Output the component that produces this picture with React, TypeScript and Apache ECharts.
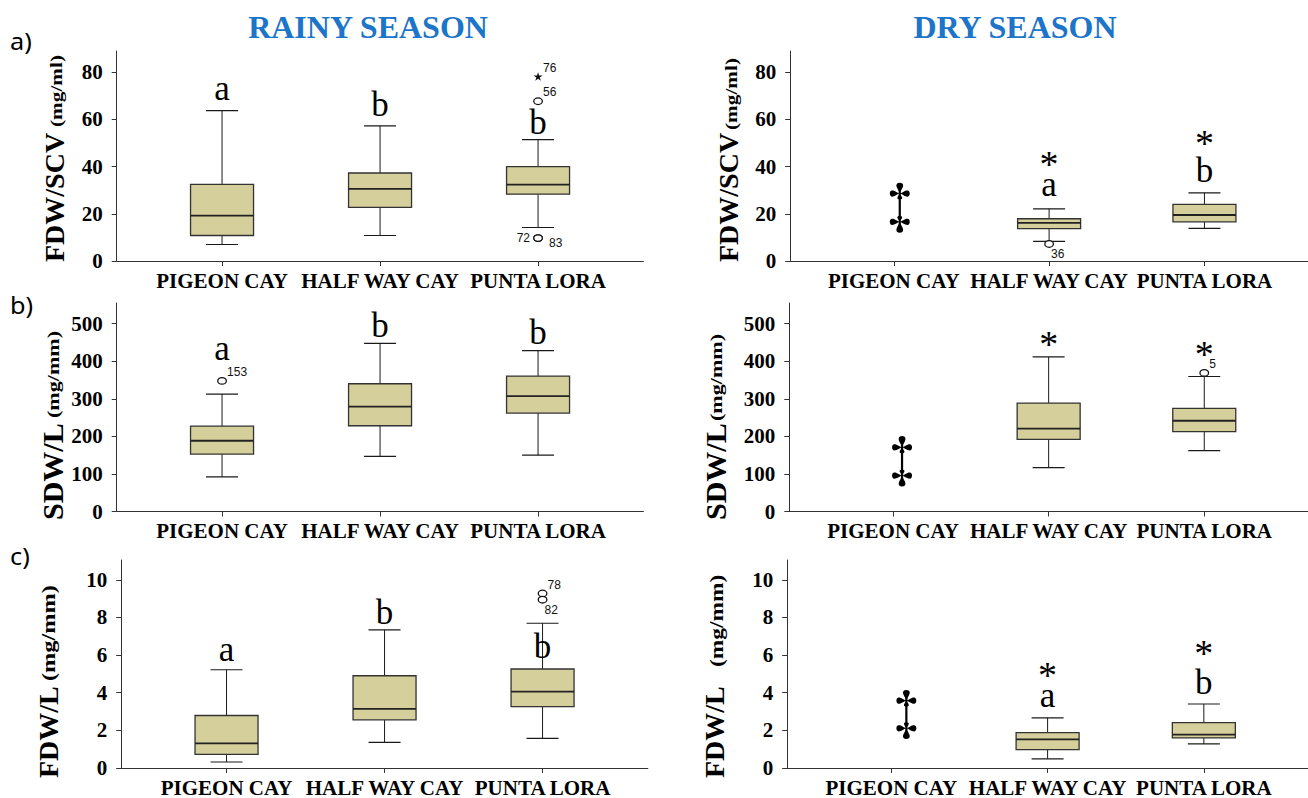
import React, { useEffect, useRef } from "react";
import * as echarts from "echarts";

// ---------------- DATA ----------------
const categories = ["PIGEON CAY", "HALF WAY CAY", "PUNTA LORA"];
const seasonTitles = ["RAINY SEASON", "DRY SEASON"];
const panelLetters = ["a)", "b)", "c)"];
const axisNames = ["FDW/SCV", "SDW/L", "FDW/L"];
const axisUnits = ["(mg/ml)", "(mg/mm)", "(mg/mm)"];

const fdwScvTicks = [0, 20, 40, 60, 80];
const sdwLTicks = [0, 100, 200, 300, 400, 500];
const fdwLTicks = [0, 2, 4, 6, 8, 10];

// [category, lower whisker, Q1, median, Q3, upper whisker]
const rainyFdwScvBoxes: any[] = [
  ["PIGEON CAY", 7.0, 10.8, 19.2, 32.5, 63.7],
  ["HALF WAY CAY", 10.8, 22.7, 30.6, 37.3, 57.3],
  ["PUNTA LORA", 14.2, 28.3, 32.4, 40.0, 51.4],
];
const dryFdwScvBoxes: any[] = [
  ["HALF WAY CAY", 8.3, 13.7, 16.2, 17.9, 22.1],
  ["PUNTA LORA", 13.8, 16.6, 19.5, 24.0, 28.9],
];
const rainySdwLBoxes: any[] = [
  ["PIGEON CAY", 92.4, 152.8, 188.3, 227.4, 312.6],
  ["HALF WAY CAY", 146.5, 228.2, 278.9, 340.1, 447.6],
  ["PUNTA LORA", 150.1, 262.0, 307.3, 360.6, 428.0],
];
const drySdwLBoxes: any[] = [
  ["HALF WAY CAY", 116.8, 192.0, 220.4, 288.5, 411.5],
  ["PUNTA LORA", 162.0, 212.4, 241.6, 274.3, 359.3],
];
const rainyFdwLBoxes: any[] = [
  ["PIGEON CAY", 0.32, 0.72, 1.31, 2.79, 5.22],
  ["HALF WAY CAY", 1.36, 2.56, 3.14, 4.9, 7.34],
  ["PUNTA LORA", 1.57, 3.26, 4.06, 5.26, 7.69],
];
const dryFdwLBoxes: any[] = [
  ["HALF WAY CAY", 0.48, 0.98, 1.52, 1.88, 2.66],
  ["PUNTA LORA", 1.28, 1.6, 1.77, 2.41, 3.4],
];

// outliers: [category, value, case number, marker, label side]
const rainyFdwScvOutliers: any[] = [
  ["PUNTA LORA", 78.0, "76", "star", "tr"],
  ["PUNTA LORA", 67.7, "56", "circle", "tr"],
  ["PUNTA LORA", 9.7, "72", "circle", "l"],
  ["PUNTA LORA", 9.7, "83", "circle", "r"],
];
const dryFdwScvOutliers: any[] = [["HALF WAY CAY", 7.2, "36", "circle", "br"]];
const rainySdwLOutliers: any[] = [["PIGEON CAY", 347.6, "153", "circle", "tr"]];
const drySdwLOutliers: any[] = [["PUNTA LORA", 369.0, "5", "circle", "tr"]];
const rainyFdwLOutliers: any[] = [
  ["PUNTA LORA", 9.27, "78", "circle", "tr"],
  ["PUNTA LORA", 8.94, "82", "circle", "br"],
];
const dryFdwLOutliers: any[] = [];

// double-dagger marks: [category, top tip, upper cross, lower cross, bottom tip]
const dryFdwScvDagger: any[] = [["PIGEON CAY", 33.2, 28.6, 16.6, 12.0]];
const drySdwLDagger: any[] = [["PIGEON CAY", 200.9, 170.8, 95.6, 66.4]];
const dryFdwLDagger: any[] = [["PIGEON CAY", 4.15, 3.58, 2.11, 1.54]];

// significance marks: [category, value, text]
const rainyFdwScvMarks: any[] = [
  ["PIGEON CAY", 71.3, "a"],
  ["HALF WAY CAY", 66.5, "b"],
  ["PUNTA LORA", 58.5, "b"],
];
const dryFdwScvMarks: any[] = [
  ["HALF WAY CAY", 30.7, "a"],
  ["PUNTA LORA", 38.2, "b"],
  ["HALF WAY CAY", 43.7, "*"],
  ["PUNTA LORA", 52.9, "*"],
];
const rainySdwLMarks: any[] = [
  ["PIGEON CAY", 424.5, "a"],
  ["HALF WAY CAY", 494.7, "b"],
  ["PUNTA LORA", 475.6, "b"],
];
const drySdwLMarks: any[] = [
  ["HALF WAY CAY", 463.7, "*"],
  ["PUNTA LORA", 437.2, "*"],
];
const rainyFdwLMarks: any[] = [
  ["PIGEON CAY", 6.1, "a"],
  ["HALF WAY CAY", 8.28, "b"],
  ["PUNTA LORA", 6.43, "b"],
];
const dryFdwLMarks: any[] = [
  ["HALF WAY CAY", 3.65, "a"],
  ["PUNTA LORA", 4.54, "b"],
  ["HALF WAY CAY", 5.28, "*"],
  ["PUNTA LORA", 6.47, "*"],
];

// ---------------- LAYOUT / STYLE ----------------
const SERIF = '"Liberation Serif", "Times New Roman", serif';
const SANS = '"Liberation Sans", Arial, sans-serif';
const BOX_FILL = "#D4CF9B";
const GRID_W = 526.7;

const panels = [
  { row: 0, col: 0, left: 116.7, top: 51, height: 210, yMax: 89, ticks: fdwScvTicks, boxes: rainyFdwScvBoxes, outliers: rainyFdwScvOutliers, marks: rainyFdwScvMarks, dagger: [], daggerDx: 0, nameX: 54, nameY: 262, nameSize: 28, unitX: 56, unitY: 127, unitSize: 17, unitScale: 1.25 },
  { row: 0, col: 1, left: 790.2, top: 51, height: 210, yMax: 89, ticks: fdwScvTicks, boxes: dryFdwScvBoxes, outliers: dryFdwScvOutliers, marks: dryFdwScvMarks, dagger: dryFdwScvDagger, daggerDx: 6, nameX: 728, nameY: 262, nameSize: 28, unitX: 731, unitY: 130, unitSize: 17, unitScale: 1.25 },
  { row: 1, col: 0, left: 116.7, top: 303, height: 208.5, yMax: 555, ticks: sdwLTicks, boxes: rainySdwLBoxes, outliers: rainySdwLOutliers, marks: rainySdwLMarks, dagger: [], daggerDx: 0, nameX: 52, nameY: 520, nameSize: 30, unitX: 53, unitY: 418, unitSize: 17, unitScale: 1.3 },
  { row: 1, col: 1, left: 789.3, top: 303, height: 208.5, yMax: 555, ticks: sdwLTicks, boxes: drySdwLBoxes, outliers: drySdwLOutliers, marks: drySdwLMarks, dagger: drySdwLDagger, daggerDx: 9, nameX: 715, nameY: 520, nameSize: 30, unitX: 716, unitY: 421, unitSize: 17, unitScale: 1.3 },
  { row: 2, col: 0, left: 121.2, top: 560, height: 209, yMax: 11.05, ticks: fdwLTicks, boxes: rainyFdwLBoxes, outliers: rainyFdwLOutliers, marks: rainyFdwLMarks, dagger: [], daggerDx: 0, nameX: 48, nameY: 778, nameSize: 28, unitX: 49, unitY: 681, unitSize: 18, unitScale: 1.35 },
  { row: 2, col: 1, left: 787.2, top: 560, height: 209, yMax: 11.05, ticks: fdwLTicks, boxes: dryFdwLBoxes, outliers: dryFdwLOutliers, marks: dryFdwLMarks, dagger: dryFdwLDagger, daggerDx: 15, nameX: 714, nameY: 778, nameSize: 28, unitX: 717, unitY: 667, unitSize: 18, unitScale: 1.3 },
];

const catX = (name: string) => categories.indexOf(name) + 1;

const line = (x1: number, y1: number, x2: number, y2: number, w: number, c = "#1a1a1a") => ({
  type: "line",
  shape: { x1, y1, x2, y2 },
  style: { stroke: c, lineWidth: w },
});

function teardrop(px: number, py: number, dx: number, dy: number, len: number, wid: number) {
  const pts: number[][] = [];
  const N = 20;
  for (let i = 0; i < N; i++) {
    const t = (2 * Math.PI * i) / N;
    const u = (len * (1 - Math.cos(t))) / 2;
    const v = (wid / 2) * Math.sin(t) * ((1 - Math.cos(t)) / 2) * 1.5;
    pts.push([px + u * dx - v * dy, py + u * dy + v * dx]);
  }
  return { type: "polygon", shape: { points: pts }, style: { fill: "#000" } };
}

function buildOption() {
  const grid: any[] = [];
  const xAxis: any[] = [];
  const yAxis: any[] = [];
  const series: any[] = [];
  const graphic: any[] = [];

  panels.forEach((p, i) => {
    grid.push({ left: p.left, top: p.top, width: GRID_W, height: p.height, containLabel: false });
    xAxis.push({
      type: "value",
      gridIndex: i,
      min: 1 / 3,
      max: 11 / 3,
      axisLine: { show: true, onZero: false, lineStyle: { color: "#333", width: 1 } },
      axisTick: { show: true, customValues: [1, 2, 3], length: 5, lineStyle: { color: "#333" } },
      axisLabel: {
        customValues: [1, 2, 3],
        formatter: (v: number) => categories[Math.round(v) - 1] || "",
        fontFamily: SERIF,
        fontWeight: "bold",
        fontSize: 21,
        color: "#000",
        margin: 9,
      },
      splitLine: { show: false },
    });
    yAxis.push({
      type: "value",
      gridIndex: i,
      min: 0,
      max: p.yMax,
      axisLine: { show: true, onZero: false, lineStyle: { color: "#333", width: 1 } },
      axisTick: { show: true, customValues: p.ticks, length: 5, lineStyle: { color: "#333" } },
      axisLabel: {
        customValues: p.ticks,
        fontFamily: SERIF,
        fontWeight: "bold",
        fontSize: 21,
        color: "#000",
        margin: 14,
      },
      splitLine: { show: false },
    });

    // boxes
    series.push({
      type: "custom",
      coordinateSystem: "cartesian2d",
      xAxisIndex: i,
      yAxisIndex: i,
      silent: true,
      encode: { x: 0, y: [1, 2, 3, 4, 5] },
      data: p.boxes.map((b: any[]) => [catX(b[0]), b[1], b[2], b[3], b[4], b[5]]),
      renderItem: (params: any, api: any) => {
        const x = api.value(0);
        const c = (k: number) => api.coord([x, api.value(k)]);
        const cx = c(1)[0];
        const yMin = c(1)[1], yQ1 = c(2)[1], yMed = c(3)[1], yQ3 = c(4)[1], yMax = c(5)[1];
        const BH = 31.5, CH = 16;
        return {
          type: "group",
          children: [
            line(cx, yMin, cx, yQ1, 1),
            line(cx, yQ3, cx, yMax, 1),
            line(cx - CH, yMin, cx + CH, yMin, 1.2),
            line(cx - CH, yMax, cx + CH, yMax, 1.2),
            {
              type: "rect",
              shape: { x: cx - BH, y: yQ3, width: 2 * BH, height: yQ1 - yQ3 },
              style: { fill: BOX_FILL, stroke: "#333", lineWidth: 1.3 },
            },
            line(cx - BH, yMed, cx + BH, yMed, 1.8, "#222"),
          ],
        };
      },
    });

    // outliers
    if (p.outliers.length) {
      const outs = p.outliers;
      series.push({
        type: "custom",
        coordinateSystem: "cartesian2d",
        xAxisIndex: i,
        yAxisIndex: i,
        silent: true,
        encode: { x: 0, y: 1 },
        data: outs.map((o: any[]) => [catX(o[0]), o[1]]),
        renderItem: (params: any, api: any) => {
          const o = outs[params.dataIndex];
          const [cx, cy] = api.coord([api.value(0), api.value(1)]);
          const children: any[] = [];
          if (o[3] === "star") {
            const pts: number[][] = [];
            for (let k = 0; k < 10; k++) {
              const r = k % 2 === 0 ? 4.8 : 1.8;
              const a = -Math.PI / 2 + (k * Math.PI) / 5;
              pts.push([cx + r * Math.cos(a), cy + r * Math.sin(a)]);
            }
            children.push({ type: "polygon", shape: { points: pts }, style: { fill: "#111" } });
          } else {
            children.push({
              type: "ellipse",
              shape: { cx, cy, rx: 4.3, ry: 3.3 },
              style: { fill: "#fff", stroke: "#111", lineWidth: 1.3 },
            });
          }
          let lx = cx + 5, ly = cy - 3, align = "left", va = "bottom";
          if (o[4] === "l") { lx = cx - 8; ly = cy; align = "right"; va = "middle"; }
          if (o[4] === "r") { lx = cx + 11; ly = cy + 5; align = "left"; va = "middle"; }
          if (o[4] === "br") { lx = cx + 2; ly = cy + 10; align = "left"; va = "middle"; }
          children.push({
            type: "text",
            x: lx,
            y: ly,
            style: { text: o[2], fontFamily: SANS, fontSize: 12, fill: "#111", align, verticalAlign: va },
          });
          return { type: "group", children };
        },
      });
    }

    // double dagger
    if (p.dagger.length) {
      const dxp = p.daggerDx;
      series.push({
        type: "custom",
        coordinateSystem: "cartesian2d",
        xAxisIndex: i,
        yAxisIndex: i,
        silent: true,
        encode: { x: 0, y: [1, 2, 3, 4] },
        data: p.dagger.map((d: any[]) => [catX(d[0]), d[1], d[2], d[3], d[4]]),
        renderItem: (params: any, api: any) => {
          const x = api.value(0);
          const c = (k: number) => api.coord([x, api.value(k)]);
          const cx = c(1)[0] + dxp;
          const yT = c(1)[1], y1 = c(2)[1], y2 = c(3)[1], yB = c(4)[1];
          const ch: any[] = [line(cx, yT + 4, cx, yB - 4, 2.2, "#000")];
          ch.push(teardrop(cx, y1, 0, -1, y1 - yT, 7));
          ch.push(teardrop(cx, y1, -1, 0, 10, 6.5));
          ch.push(teardrop(cx, y1, 1, 0, 10, 6.5));
          ch.push(teardrop(cx, y1, 0, 1, 6, 5));
          ch.push(teardrop(cx, y2, 0, 1, yB - y2, 7));
          ch.push(teardrop(cx, y2, -1, 0, 10, 6.5));
          ch.push(teardrop(cx, y2, 1, 0, 10, 6.5));
          ch.push(teardrop(cx, y2, 0, -1, 6, 5));
          return { type: "group", children: ch };
        },
      });
    }

    // significance letters / asterisks
    if (p.marks.length) {
      const mk = p.marks;
      series.push({
        type: "custom",
        coordinateSystem: "cartesian2d",
        xAxisIndex: i,
        yAxisIndex: i,
        silent: true,
        encode: { x: 0, y: 1 },
        data: mk.map((m: any[]) => [catX(m[0]), m[1]]),
        renderItem: (params: any, api: any) => {
          const m = mk[params.dataIndex];
          const [cx, cy] = api.coord([api.value(0), api.value(1)]);
          const isStar = m[2] === "*";
          const shift = m[2] === "a" ? -4 : isStar ? 6.5 : 0;
          return {
            type: "text",
            x: cx,
            y: cy + shift,
            style: {
              text: m[2],
              fontFamily: SERIF,
              fontSize: isStar ? 38 : 35,
              fill: "#000",
              align: "center",
              verticalAlign: "middle",
            },
          };
        },
      });
    }

    // axis names
    graphic.push({
      type: "text",
      x: p.nameX,
      y: p.nameY,
      rotation: Math.PI / 2,
      style: {
        text: axisNames[p.row],
        fontFamily: SERIF,
        fontWeight: "bold",
        fontSize: p.nameSize,
        fill: "#000",
        align: "left",
        verticalAlign: "middle",
      },
    });
    graphic.push({
      type: "text",
      x: p.unitX,
      y: p.unitY,
      rotation: Math.PI / 2,
      scaleX: p.unitScale,
      style: {
        text: axisUnits[p.row],
        fontFamily: SERIF,
        fontWeight: "bold",
        fontSize: p.unitSize,
        fill: "#000",
        align: "left",
        verticalAlign: "middle",
      },
    });
  });

  // titles
  [368, 1015].forEach((x, k) => {
    graphic.push({
      type: "text",
      x,
      y: 27,
      style: {
        text: seasonTitles[k],
        fontFamily: SERIF,
        fontWeight: "bold",
        fontSize: 32,
        fill: "#1C75C8",
        align: "center",
        verticalAlign: "middle",
      },
    });
  });
  // panel letters
  [41, 305, 556].forEach((y, k) => {
    graphic.push({
      type: "text",
      x: 10,
      y,
      scaleX: 1.1,
      style: {
        text: panelLetters[k],
        fontFamily: '"Noto Sans", "Open Sans", sans-serif',
        fontSize: 23,
        fill: "#000",
        align: "left",
        verticalAlign: "middle",
      },
    });
  });

  return {
    animation: false,
    backgroundColor: "#fff",
    grid,
    xAxis,
    yAxis,
    series,
    graphic,
  };
}

export default function App() {
  const ref = useRef<HTMLDivElement>(null);
  useEffect(() => {
    document.body.style.margin = "0";
    if (!ref.current) return;
    const chart = echarts.init(ref.current, undefined, { renderer: "svg" });
    chart.setOption(buildOption() as any);
    return () => chart.dispose();
  }, []);
  return (
    <div
      ref={ref}
      style={{ position: "absolute", left: 0, top: 0, width: 1308, height: 798 }}
    />
  );
}
